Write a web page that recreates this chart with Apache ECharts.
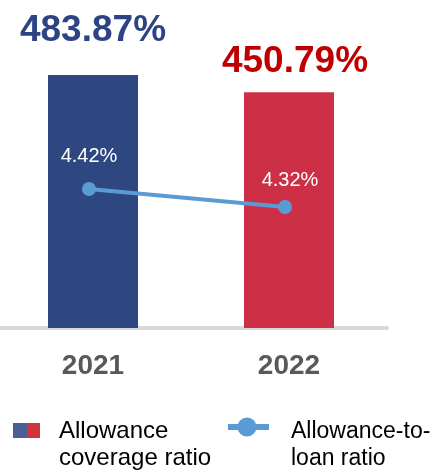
<!DOCTYPE html>
<html>
<head>
<meta charset="utf-8">
<script src="https://cdn.jsdelivr.net/npm/echarts@6/dist/echarts.min.js"></script>
<style>
html,body{margin:0;padding:0;background:#fff;overflow:hidden;}
#c{position:absolute;left:-20px;top:0;width:458px;height:471px;}
</style>
</head>
<body>
<div id="c"></div>
<script>
var categories = ['2021', '2022'];
var coverageRatio = [483.87, 450.79];
var allowanceToLoan = [4.42, 4.32];
var coverageLabels = ['483.87%', '450.79%'];
var loanLabels = ['4.42%', '4.32%'];
var legendNames = ['Allowance\ncoverage ratio', 'Allowance-to-\nloan ratio'];

var FONT = '"Liberation Sans", Arial, sans-serif';
var SHIFT = 20;
var barColors = ['#2e4780', '#cd3046'];
var barLabelColors = ['#2c4483', '#c00000'];
var barLabelOffsets = [[0, -21], [6, -7]];
var lineLabelOffsets = [[0, 1], [5, 7]];

var chart = echarts.init(document.getElementById('c'), null, {renderer: 'canvas'});

var barData = coverageRatio.map(function (v, i) {
  return {
    value: v,
    itemStyle: {color: barColors[i]},
    label: {
      show: true, position: 'top', distance: 5, offset: barLabelOffsets[i],
      formatter: coverageLabels[i], color: barLabelColors[i],
      fontSize: 37, fontWeight: 'bold', fontFamily: FONT
    }
  };
});
var lineData = allowanceToLoan.map(function (v, i) {
  return {
    value: v,
    label: {
      show: true, position: 'top', distance: 17, offset: lineLabelOffsets[i],
      formatter: loanLabels[i], color: '#ffffff', fontSize: 20, fontFamily: FONT
    }
  };
});

chart.setOption({
  animation: false,
  grid: [
    {left: -5 + SHIFT, right: 51, top: 0, bottom: 143},
    {left: -9 + SHIFT, right: 55, top: 0, bottom: 143}
  ],
  xAxis: [
    {
      type: 'category', data: categories, gridIndex: 0, offset: 2,
      axisLine: {show: true, lineStyle: {color: '#d9d9d9', width: 4}},
      axisTick: {show: false},
      axisLabel: {color: '#595959', fontSize: 28, fontWeight: 'bold', fontFamily: FONT, margin: 22}
    },
    {
      type: 'category', data: categories, gridIndex: 1,
      axisLine: {show: false}, axisTick: {show: false}, axisLabel: {show: false}
    }
  ],
  yAxis: [
    {type: 'value', gridIndex: 0, min: 0, max: 627, show: false, splitLine: {show: false}},
    {type: 'value', gridIndex: 1, min: 3.648, max: 5.47, show: false, splitLine: {show: false}}
  ],
  series: [
    {
      type: 'bar', name: 'Allowance coverage ratio', data: barData,
      xAxisIndex: 0, yAxisIndex: 0, barWidth: 90
    },
    {
      type: 'line', name: 'Allowance-to-loan ratio', data: lineData,
      xAxisIndex: 1, yAxisIndex: 1, z: 5,
      symbol: 'circle', symbolSize: 14,
      lineStyle: {color: '#5b9bd5', width: 4},
      itemStyle: {color: '#5b9bd5'}
    }
  ],
  graphic: [
    {type: 'rect', shape: {x: 13 + SHIFT, y: 423, width: 14, height: 15}, style: {fill: '#4a5f96'}},
    {type: 'rect', shape: {x: 27 + SHIFT, y: 423, width: 13, height: 15}, style: {fill: '#d1343a'}},
    {type: 'text', style: {x: 59 + SHIFT, y: 418, text: legendNames[0], font: '24px ' + FONT, fill: '#000', lineHeight: 27, verticalAlign: 'top'}},
    {type: 'line', shape: {x1: 228 + SHIFT, y1: 427, x2: 269 + SHIFT, y2: 427}, style: {stroke: '#5b9bd5', lineWidth: 6}},
    {type: 'circle', shape: {cx: 247 + SHIFT, cy: 427, r: 9.5}, style: {fill: '#5b9bd5'}},
    {type: 'text', style: {x: 291 + SHIFT, y: 418, text: legendNames[1], font: '23px ' + FONT, fill: '#000', lineHeight: 27, verticalAlign: 'top'}}
  ]
});
</script>
</body>
</html>
